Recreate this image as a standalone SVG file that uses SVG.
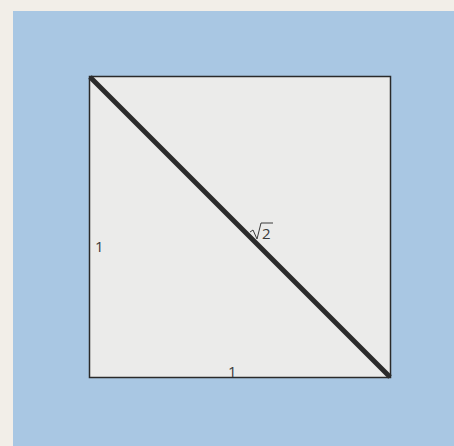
<svg xmlns="http://www.w3.org/2000/svg" width="454" height="446" viewBox="0 0 454 446">
<style>
.lbl{font-family:"Open Sans","Liberation Sans",sans-serif;font-size:15px;fill:#3a3a3a}
</style>
<rect x="0" y="0" width="454" height="446" fill="#f2eee8"/>
<rect x="13" y="11" width="441" height="435" fill="#a9c7e3"/>
<g id="square">
<rect x="89.5" y="76.5" width="301" height="301" fill="#ebebea" stroke="#2a2a2a" stroke-width="1.5"/>
</g>
<g id="connectors">
<line x1="90" y1="77" x2="390" y2="377" stroke="#2b2b2b" stroke-width="5"/>
</g>
<g id="labels">
<text class="lbl" x="95" y="252">1</text>
<text class="lbl" x="228" y="377">1</text>
<path d="M250 232 L253 230 L257 239 L261 223 L273 223" fill="none" stroke="#3a3a3a" stroke-width="1"/>
<text class="lbl" x="262" y="239">2</text>
</g>
</svg>
